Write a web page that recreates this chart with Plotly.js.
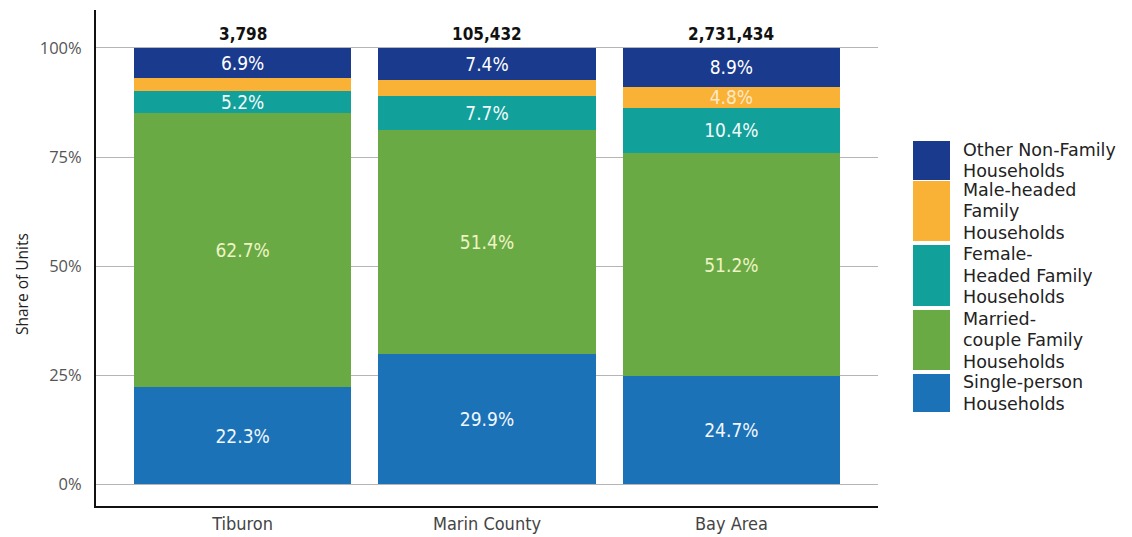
<!DOCTYPE html>
<html>
<head>
<meta charset="utf-8">
<script src="https://cdn.plot.ly/plotly-3.0.1.min.js"></script>
<style>html,body{margin:0;padding:0;background:#fff;}#chart{width:1132px;height:537px;}</style>
</head>
<body>
<div id="chart"></div>
<script>
const categories = ["Tiburon", "Marin County", "Bay Area"];
const totals = ["3,798", "105,432", "2,731,434"];
const seriesNames = ["Single-person<br>Households", "Married-<br>couple Family<br>Households", "Female-<br>Headed Family<br>Households", "Male-headed<br>Family<br>Households", "Other Non-Family<br>Households"];
const single = [22.3, 29.9, 24.7];
const married = [62.7, 51.4, 51.2];
const female = [5.2, 7.7, 10.4];
const male = [2.9, 3.6, 4.8];
const other = [6.9, 7.4, 8.9];
const maleLabelShown = [false, false, true];
const yTicks = [0, 25, 50, 75, 100];

const colors = ["#1b72b6", "#6aaa45", "#12a09b", "#f9b136", "#1a3a8e"];
const textColors = ["#f2f7ff", "#eef4c4", "#f2fbfa", "#fde9c8", "#ffffff"];
const values = [single, married, female, male, other];
const labelFont = "DejaVu Sans Condensed, DejaVu Sans, sans-serif";

const traces = values.map((v, i) => ({
  type: "bar",
  name: seriesNames[i].replace(/<br>/g, " "),
  x: categories,
  y: v,
  marker: {color: colors[i], line: {width: 0}},
  text: v.map((d, j) => (i === 3 && !maleLabelShown[j]) ? "" : d.toFixed(1) + "%"),
  textposition: "inside",
  insidetextanchor: "middle",
  textangle: 0,
  textfont: {family: labelFont, size: 19, color: textColors[i]},
  hoverinfo: "skip",
  showlegend: false
}));

// plot geometry in pixels
const L = 96, R = 878, T = 10, B = 506, W = 1132, H = 537;
const px2x = p => (p - L) / (R - L);
const py2y = p => (B - p) / (B - T);

const legendBoxes = [[141, 180], [181, 241], [245, 306], [310, 370], [374, 412]];
const legendOrder = [4, 3, 2, 1, 0];
const lineGap = 21.5;
const shapes = [];
const annotations = [];
legendOrder.forEach((s, k) => {
  const [y0, y1] = legendBoxes[k];
  shapes.push({type: "rect", xref: "paper", yref: "paper",
    x0: px2x(913), x1: px2x(950), y0: py2y(y1), y1: py2y(y0),
    fillcolor: colors[s], line: {width: 0}});
  const lines = seriesNames[s].split("<br>");
  const mid = (y0 + y1) / 2;
  lines.forEach((ln, li) => {
    const cy = mid + (li - (lines.length - 1) / 2) * lineGap;
    annotations.push({xref: "paper", yref: "paper", x: px2x(961), y: py2y(cy),
      xanchor: "left", yanchor: "middle", align: "left", showarrow: false, height: 20,
      text: ln, font: {family: "DejaVu Sans, sans-serif", size: 17.5, color: "#222"}});
  });
});
categories.forEach((c, i) => {
  annotations.push({x: c, y: 103.2, xref: "x", yref: "y", text: "<b>" + totals[i] + "</b>", showarrow: false,
    yanchor: "middle", font: {family: labelFont, size: 17, color: "#111"}});
});
annotations.push({xref: "paper", yref: "paper", x: px2x(22), y: py2y(284), textangle: -90,
  xanchor: "center", yanchor: "middle", showarrow: false, text: "Share of Units",
  font: {family: "Open Sans, sans-serif", size: 15.5, color: "#222"}});

const layout = {
  width: W, height: H,
  margin: {l: L, r: W - R, t: T, b: H - B, pad: 0},
  paper_bgcolor: "#fff", plot_bgcolor: "#fff",
  barmode: "stack", bargap: 0.11,
  uniformtext: {mode: "show", minsize: 19},
  font: {family: "Open Sans, sans-serif"},
  xaxis: {range: [-0.6, 2.6], showline: true, linecolor: "#111", linewidth: 2,
    showgrid: false, zeroline: false, ticks: "", fixedrange: true,
    tickfont: {family: labelFont, size: 18, color: "#444"}, ticklabelstandoff: 0},
  yaxis: {range: [-5, 108.7], showline: true, linecolor: "#111", linewidth: 2,
    tickvals: yTicks, ticktext: yTicks.map(t => t + "%"), showgrid: true,
    gridcolor: "#b5b5b5", gridwidth: 1, zeroline: false, ticks: "",
    tickfont: {family: "Open Sans, sans-serif", size: 16.5, color: "#555"}, ticklabelstandoff: 9},
  shapes: shapes,
  annotations: annotations,
  showlegend: false
};

Plotly.newPlot("chart", traces, layout, {displayModeBar: false, staticPlot: true});
</script>
</body>
</html>
